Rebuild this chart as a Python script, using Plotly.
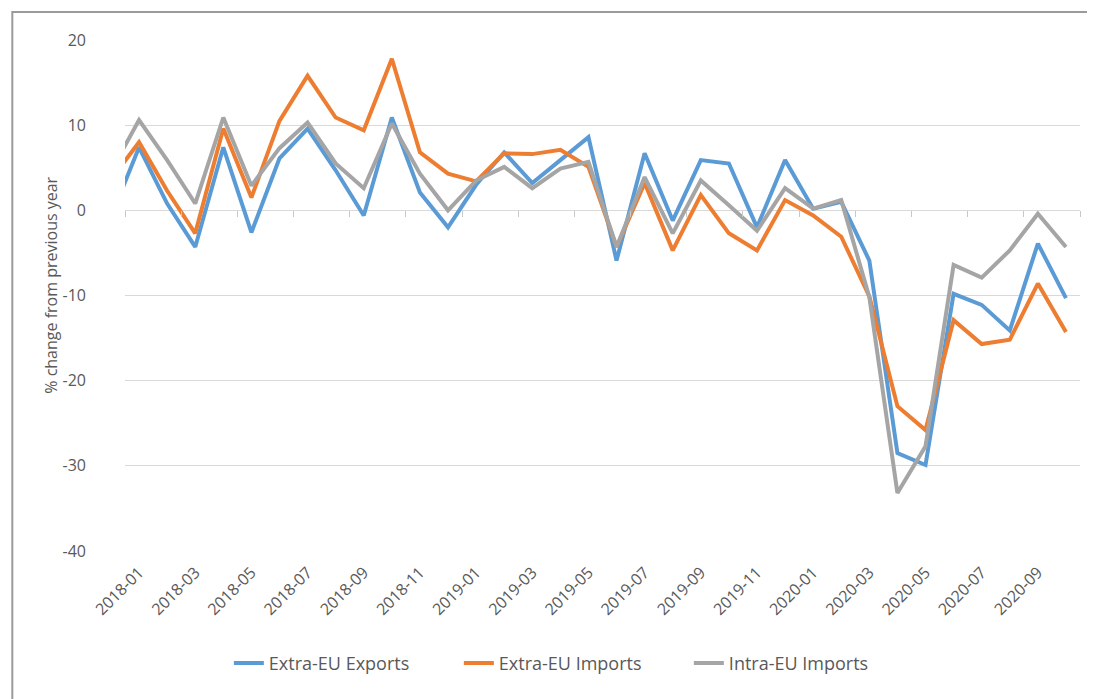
import plotly.graph_objects as go

# monthly categories (2017-12 sits just outside the visible range, only its slope shows)
months = ["2017-12",
          "2018-01", "2018-02", "2018-03", "2018-04", "2018-05", "2018-06",
          "2018-07", "2018-08", "2018-09", "2018-10", "2018-11", "2018-12",
          "2019-01", "2019-02", "2019-03", "2019-04", "2019-05", "2019-06",
          "2019-07", "2019-08", "2019-09", "2019-10", "2019-11", "2019-12",
          "2020-01", "2020-02", "2020-03", "2020-04", "2020-05", "2020-06",
          "2020-07", "2020-08", "2020-09", "2020-10"]

extra_eu_exports = [-0.8,
                    7.4, 0.8, -4.3, 7.4, -2.6, 6.1, 9.6, 4.7, -0.6, 10.9, 2.1, -2.0,
                    3.0, 6.8, 3.2, 5.9, 8.6, -5.9, 6.7, -1.2, 5.9, 5.5, -2.0, 5.9,
                    0.2, 1.0, -5.9, -28.5, -29.9, -9.8, -11.1, -14.1, -3.9, -10.3]

extra_eu_imports = [3.6,
                    8.0, 2.3, -2.7, 9.6, 1.5, 10.5, 15.8, 10.9, 9.4, 17.8, 6.8, 4.3,
                    3.4, 6.7, 6.6, 7.1, 5.1, -4.3, 3.2, -4.7, 1.8, -2.7, -4.7, 1.2,
                    -0.6, -3.1, -10.1, -23.0, -25.8, -12.9, -15.7, -15.2, -8.6, -14.3]

intra_eu_imports = [4.6,
                    10.6, 5.9, 0.8, 10.9, 2.9, 7.3, 10.3, 5.5, 2.6, 10.2, 4.3, 0.0,
                    3.5, 5.1, 2.6, 4.9, 5.7, -4.3, 3.9, -2.7, 3.5, 0.6, -2.4, 2.6,
                    0.2, 1.2, -10.2, -33.2, -27.7, -6.4, -7.9, -4.7, -0.4, -4.3]

tick_labels = months[1::2]
y_ticks = [20, 10, 0, -10, -20, -30, -40]
y_tick_text = ["20", "10", "0", "-10", "-20", "-30", "-40"]

FONT = "Open Sans"
TXT = "#595959"
GRID = "#d9d9d9"

fig = go.Figure()

series = [("Extra-EU Exports", extra_eu_exports, "#5B9BD5"),
          ("Extra-EU Imports", extra_eu_imports, "#ED7D31"),
          ("Intra-EU Imports", intra_eu_imports, "#A5A5A5")]

for name, vals, col in series:
    fig.add_trace(go.Scatter(x=months, y=vals, name=name, mode="lines",
                             line=dict(color=col, width=4)))

# empty trace so the overlay axis (tick marks on the zero line) gets drawn
fig.add_trace(go.Scatter(x=[], y=[], xaxis="x2", showlegend=False,
                         hoverinfo="skip"))

# x axis
fig.update_xaxes(type="category", categoryorder="array", categoryarray=months,
                 range=[0.5, len(months) - 0.5],
                 tickmode="array", tickvals=tick_labels, ticktext=tick_labels,
                 tickangle=-45, showgrid=False, zeroline=False, showline=False,
                 ticks="", ticklabelstandoff=8,
                 tickfont=dict(family=FONT, size=16, color=TXT))

# small tick marks sitting on the zero line, every second category boundary
fig.update_layout(xaxis2=dict(overlaying="x", anchor="free", position=40 / 60,
                              side="bottom", range=[0.5, len(months) - 0.5],
                              tickmode="array",
                              tickvals=[i + 0.5 for i in range(0, len(months), 2)],
                              showticklabels=False, ticks="outside", ticklen=6,
                              tickcolor="#c8c8c8", showgrid=False, zeroline=False,
                              showline=False))

# y axis
fig.update_yaxes(range=[-40, 20], tickmode="array", tickvals=y_ticks,
                 ticktext=y_tick_text, showgrid=True, gridcolor=GRID,
                 gridwidth=1, zeroline=False, showline=False,
                 ticklabelstandoff=38,
                 tickfont=dict(family=FONT, size=16, color=TXT))

fig.add_annotation(text="% change from previous year", textangle=-90,
                   xref="paper", yref="paper", x=-0.077, y=0.52,
                   xanchor="center", yanchor="middle", showarrow=False,
                   font=dict(family=FONT, size=16, color=TXT))

fig.update_layout(
    width=1095, height=699,
    margin=dict(l=117, r=23, t=32, b=156),
    paper_bgcolor="white", plot_bgcolor="white",
    font=dict(family=FONT, color=TXT),
    legend=dict(orientation="h", x=0.47, xanchor="center", y=-0.22,
                yanchor="middle", font=dict(family=FONT, size=18, color=TXT),
                entrywidth=185, tracegroupgap=0),
)

# chart frame (left/top edges visible, the rest runs off the picture)
fig.add_shape(type="rect", xref="paper", yref="paper",
              x0=-0.118, x1=1.1, y0=-0.4, y1=1.055,
              line=dict(color="#9a9a9a", width=2), layer="below")

fig.write_html("out.html")
